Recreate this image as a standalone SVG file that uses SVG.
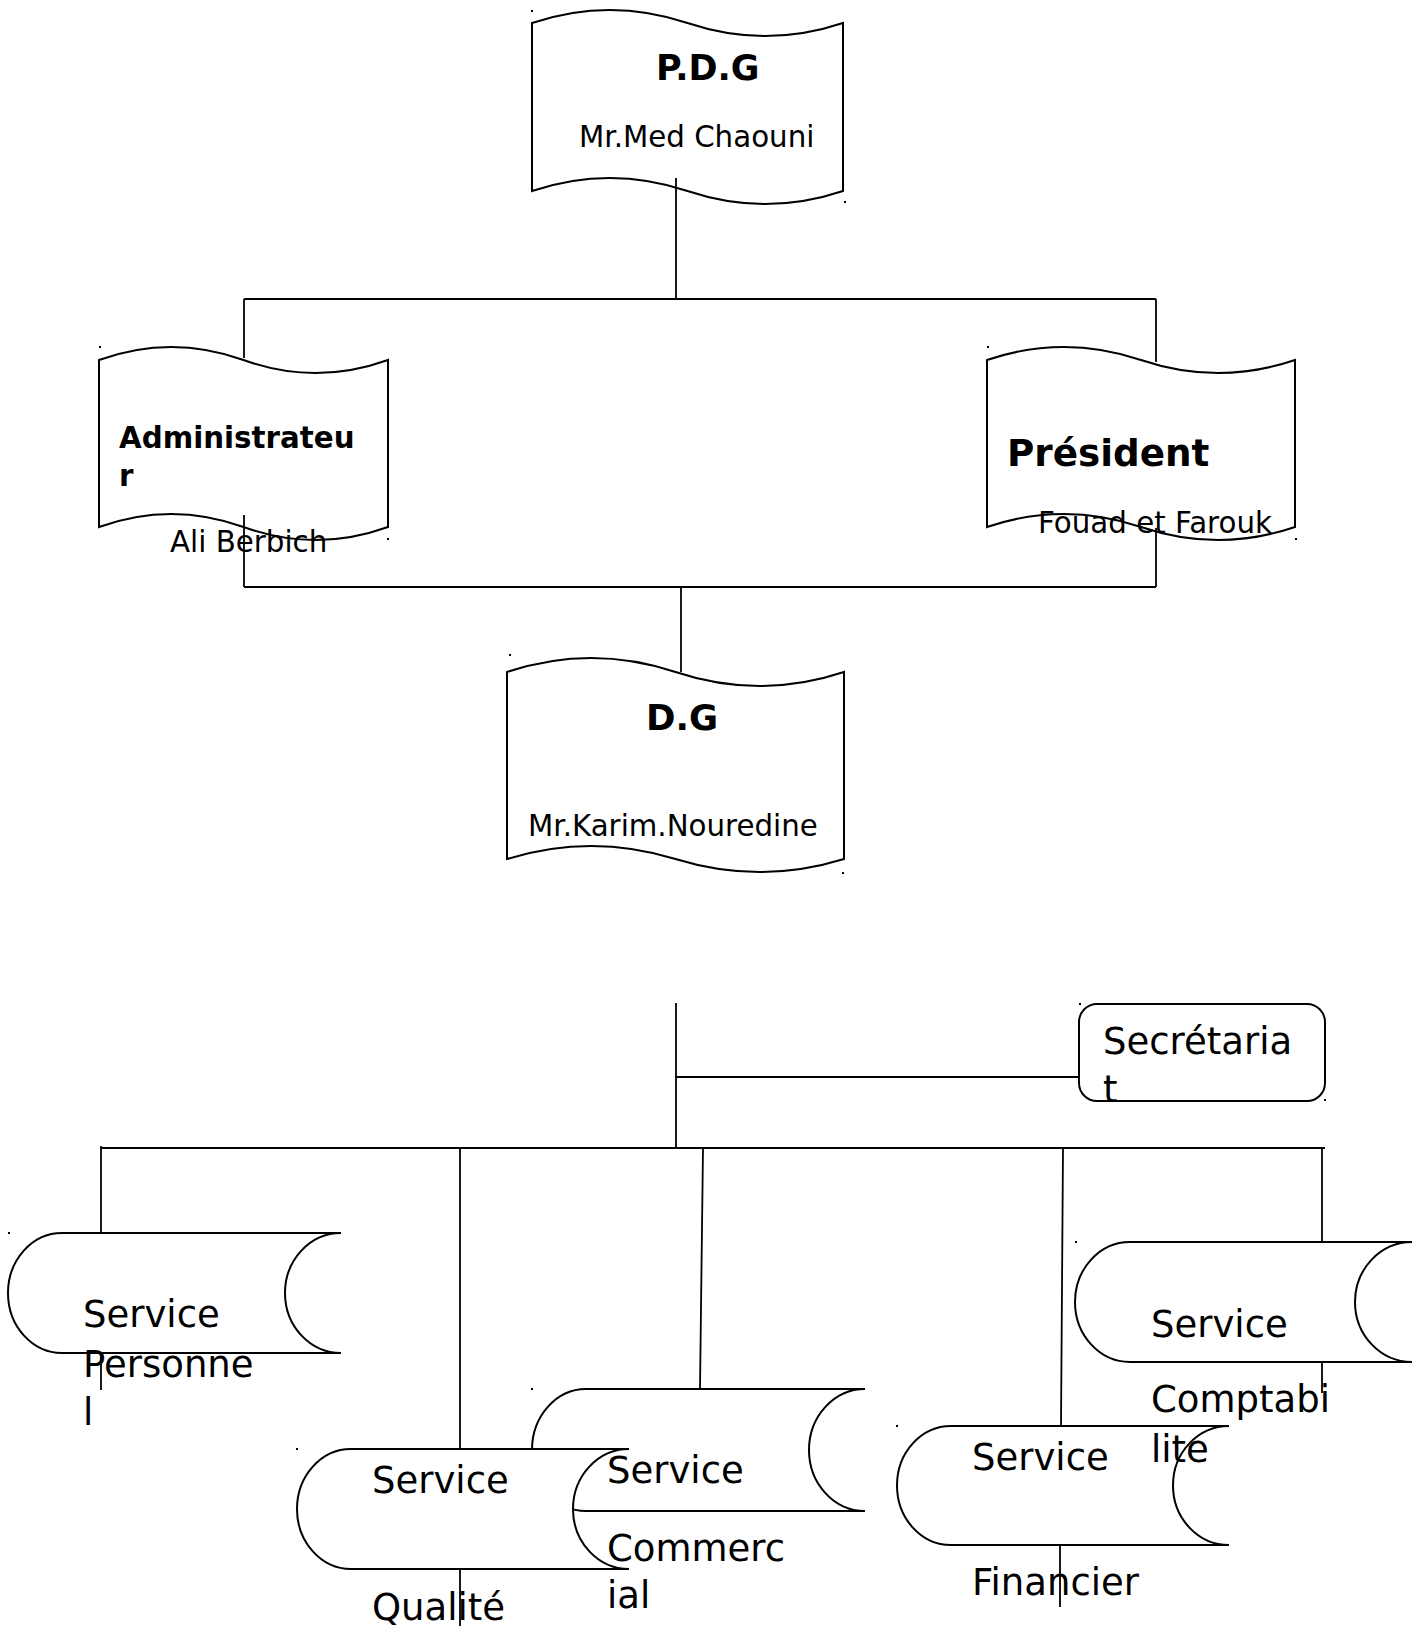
<svg xmlns="http://www.w3.org/2000/svg" width="1422" height="1629" viewBox="0 0 1422 1629">
<style>
.shape{fill:#fff;stroke:#000;stroke-width:2}
.conn{stroke:#000;stroke-width:1.8;fill:none}
.mark{fill:#000}
text{font-family:"DejaVu Sans","Liberation Sans",sans-serif;fill:#000}
.title{font-weight:bold}
.name{font-size:29.3px}
.svc{font-size:37px}
</style>
<rect width="1422" height="1629" fill="#fff"/>

<g id="pdg">
<path class="shape" d="M532,23 Q609.75,-3 687.5,23 T843,23 L843,191 Q765.25,217 687.5,191 T532,191 Z"/>
<rect class="mark" x="531" y="10" width="2" height="2"/><rect class="mark" x="844" y="201" width="2" height="2"/>
<text class="title" x="656" y="80" font-size="35">P.D.G</text>
<text class="name" x="579" y="147">Mr.Med Chaouni</text>
</g>

<g id="administrateur">
<path class="shape" d="M99,360 Q171.25,334 243.5,360 T388,360 L388,527 Q315.75,553 243.5,527 T99,527 Z"/>
<rect class="mark" x="99" y="346" width="2" height="2"/><rect class="mark" x="387" y="538" width="2" height="2"/>
<text class="title" x="119" y="448" font-size="29.3">Administrateu</text>
<text class="title" x="119" y="486" font-size="29.3">r</text>
<text class="name" x="170" y="552">Ali Berbich</text>
</g>

<g id="president">
<path class="shape" d="M987,360 Q1064,334 1141,360 T1295,360 L1295,527 Q1218,553 1141,527 T987,527 Z"/>
<rect class="mark" x="987" y="346" width="2" height="2"/><rect class="mark" x="1295" y="538" width="2" height="2"/>
<text class="title" x="1007" y="466" font-size="37.3">Président</text>
<text class="name" x="1038" y="533">Fouad et Farouk</text>
</g>

<g id="dg">
<path class="shape" d="M507,672 Q591.25,644 675.5,672 T844,672 L844,859 Q759.75,885 675.5,859 T507,859 Z"/>
<rect class="mark" x="509" y="654" width="2" height="2"/><rect class="mark" x="842" y="872" width="2" height="2"/>
<text class="title" x="646" y="730" font-size="35.5">D.G</text>
<text class="name" x="528" y="836">Mr.Karim.Nouredine</text>
</g>

<g id="secretariat">
<rect class="shape" x="1079" y="1004" width="246" height="97" rx="18" ry="18"/>
<rect class="mark" x="1079" y="1003" width="2" height="2"/><rect class="mark" x="1324" y="1099" width="2" height="2"/>
<text class="svc" x="1103" y="1054">Secrétaria</text>
<text class="svc" x="1103" y="1102">t</text>
</g>

<g id="service-personnel">
<path class="shape" d="M62,1233 H341 A56 60 0 0 0 341,1353 H62 A54 60 0 0 1 62,1233 Z"/>
<rect class="mark" x="8" y="1232" width="2" height="2"/>
</g>

<g id="service-commercial">
<path class="shape" d="M586,1389 H865 A56 61 0 0 0 865,1511 H586 A54 61 0 0 1 586,1389 Z"/>
<rect class="mark" x="531" y="1388" width="2" height="2"/>
</g>

<g id="service-qualite">
<path class="shape" d="M351,1449 H629 A56 60 0 0 0 629,1569 H351 A54 60 0 0 1 351,1449 Z"/>
<rect class="mark" x="296" y="1448" width="2" height="2"/>
</g>

<g id="service-financier">
<path class="shape" d="M951,1426 H1229 A56 59.5 0 0 0 1229,1545 H951 A54 59.5 0 0 1 951,1426 Z"/>
<rect class="mark" x="896" y="1425" width="2" height="2"/>
</g>

<g id="service-comptabilite">
<path class="shape" d="M1130,1242 H1412 A57 60 0 0 0 1412,1362 H1130 A55 60 0 0 1 1130,1242 Z"/>
<rect class="mark" x="1075" y="1241" width="2" height="2"/>
</g>

<g id="connectors">
<line class="conn" x1="676" y1="178" x2="676" y2="299"/>
<line class="conn" x1="244" y1="299" x2="1156" y2="299"/>
<line class="conn" x1="244" y1="299" x2="244" y2="358"/>
<line class="conn" x1="1156" y1="299" x2="1156" y2="362"/>
<line class="conn" x1="244" y1="515" x2="244" y2="587"/>
<line class="conn" x1="1156" y1="528" x2="1156" y2="587"/>
<line class="conn" x1="244" y1="587" x2="1156" y2="587"/>
<line class="conn" x1="681" y1="587" x2="681" y2="672"/>
<line class="conn" x1="676" y1="1003" x2="676" y2="1148"/>
<line class="conn" x1="676" y1="1077" x2="1079" y2="1077"/>
<line class="conn" x1="101" y1="1148" x2="1325" y2="1148"/>
<line class="conn" x1="101" y1="1146" x2="101" y2="1233"/>
<line class="conn" x1="101" y1="1353" x2="101" y2="1390"/>
<line class="conn" x1="460" y1="1148" x2="460" y2="1449"/>
<line class="conn" x1="460" y1="1569" x2="460" y2="1626"/>
<line class="conn" x1="703" y1="1148" x2="700" y2="1389"/>
<line class="conn" x1="1063" y1="1148" x2="1061" y2="1426"/>
<line class="conn" x1="1060" y1="1545" x2="1060" y2="1607"/>
<line class="conn" x1="1322" y1="1148" x2="1322" y2="1242"/>
<line class="conn" x1="1322" y1="1362" x2="1322" y2="1393"/>
</g>

<g id="service-labels">
<text class="svc" x="83" y="1327">Service</text>
<text class="svc" x="83" y="1377">Personne</text>
<text class="svc" x="83" y="1425">l</text>
<text class="svc" x="372" y="1493">Service</text>
<text class="svc" x="372" y="1620">Qualité</text>
<text class="svc" x="607" y="1483">Service</text>
<text class="svc" x="607" y="1561">Commerc</text>
<text class="svc" x="607" y="1608">ial</text>
<text class="svc" x="972" y="1470">Service</text>
<text class="svc" x="972" y="1595">Financier</text>
<text class="svc" x="1151" y="1337">Service</text>
<text class="svc" x="1151" y="1412">Comptabi</text>
<text class="svc" x="1151" y="1462">lite</text>
</g>
</svg>
